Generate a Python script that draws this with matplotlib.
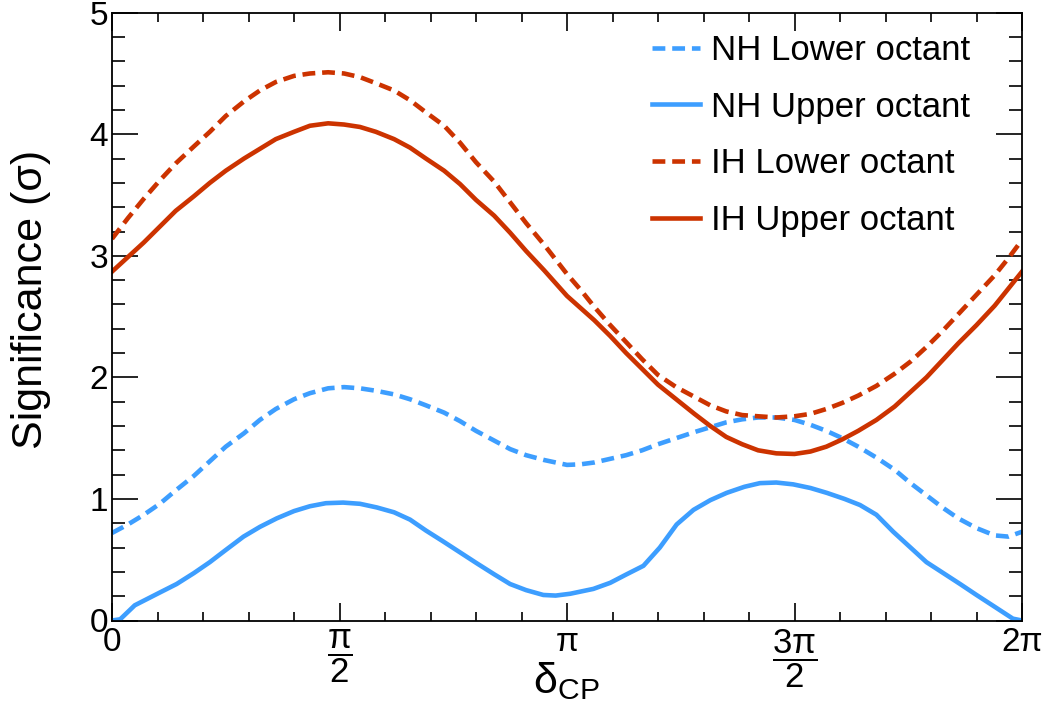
import numpy as np
import matplotlib
matplotlib.use('Agg')
import matplotlib.pyplot as plt
from matplotlib.ticker import MultipleLocator

plt.rcParams['font.family'] = ['Liberation Sans', 'DejaVu Sans']
plt.rcParams['mathtext.fontset'] = 'custom'
plt.rcParams['mathtext.rm'] = 'Liberation Sans'
plt.rcParams['mathtext.it'] = 'Liberation Sans'
plt.rcParams['mathtext.default'] = 'regular'

# delta_CP in units of pi
delta_pi = [0, 0.035, 0.07, 0.105, 0.14, 0.18, 0.215, 0.25, 0.29, 0.325,
            0.36, 0.40, 0.435, 0.475, 0.51, 0.545, 0.58, 0.62, 0.655, 0.69,
            0.73, 0.765, 0.80, 0.84, 0.875, 0.91, 0.95, 1.0, 1.03, 1.06,
            1.095, 1.13, 1.165, 1.2, 1.24, 1.28, 1.315, 1.35, 1.385, 1.42,
            1.46, 1.5, 1.535, 1.57, 1.605, 1.64, 1.68, 1.72, 1.755, 1.79,
            1.825, 1.86, 1.90, 1.94, 1.97, 2.0]
ih_upper = [2.87, 2.99, 3.11, 3.24, 3.37, 3.49, 3.60, 3.70, 3.80, 3.88,
            3.96, 4.02, 4.07, 4.09, 4.08, 4.06, 4.02, 3.96, 3.89, 3.80,
            3.70, 3.59, 3.46, 3.33, 3.19, 3.04, 2.88, 2.67, 2.57, 2.47,
            2.34, 2.20, 2.07, 1.94, 1.82, 1.70, 1.60, 1.51, 1.45, 1.40,
            1.375, 1.37, 1.39, 1.43, 1.49, 1.56, 1.65, 1.76, 1.88, 2.00,
            2.14, 2.28, 2.43, 2.59, 2.73, 2.87]
ih_lower = [3.14, 3.31, 3.47, 3.62, 3.76, 3.90, 4.02, 4.15, 4.27, 4.36,
            4.43, 4.48, 4.50, 4.51, 4.50, 4.47, 4.42, 4.36, 4.28, 4.18,
            4.07, 3.93, 3.77, 3.61, 3.44, 3.27, 3.09, 2.85, 2.72, 2.58,
            2.43, 2.29, 2.15, 2.02, 1.92, 1.84, 1.77, 1.72, 1.69, 1.68,
            1.67, 1.68, 1.70, 1.74, 1.79, 1.85, 1.93, 2.03, 2.13, 2.25,
            2.38, 2.52, 2.68, 2.84, 2.98, 3.13]
nh_lower = [0.72, 0.79, 0.87, 0.96, 1.07, 1.19, 1.31, 1.43, 1.54, 1.65,
            1.74, 1.82, 1.87, 1.91, 1.92, 1.91, 1.89, 1.86, 1.82, 1.77,
            1.71, 1.64, 1.56, 1.48, 1.41, 1.36, 1.32, 1.28, 1.285, 1.30,
            1.33, 1.36, 1.40, 1.45, 1.50, 1.55, 1.59, 1.63, 1.655, 1.67,
            1.67, 1.65, 1.61, 1.56, 1.50, 1.43, 1.34, 1.24, 1.13, 1.03,
            0.93, 0.84, 0.76, 0.70, 0.69, 0.73]

delta_pi_nhu = [0, 0.018, 0.05, 0.105, 0.142, 0.18, 0.215, 0.25, 0.289, 0.325,
                0.362, 0.40, 0.435, 0.47, 0.508, 0.545, 0.582, 0.62, 0.655, 0.69,
                0.728, 0.765, 0.802, 0.84, 0.875, 0.91, 0.948, 0.975, 1.007, 1.058,
                1.095, 1.131, 1.168, 1.204, 1.241, 1.278, 1.315, 1.351, 1.39, 1.424,
                1.46, 1.497, 1.535, 1.571, 1.61, 1.644, 1.68, 1.717, 1.755, 1.79,
                1.827, 1.864, 1.90, 1.937, 1.98, 2.0]
nh_upper = [0.0, 0.01, 0.125, 0.23, 0.30, 0.39, 0.48, 0.58, 0.69, 0.77,
            0.84, 0.90, 0.94, 0.965, 0.97, 0.96, 0.93, 0.89, 0.83, 0.74,
            0.65, 0.56, 0.47, 0.38, 0.30, 0.25, 0.21, 0.205, 0.22, 0.26,
            0.31, 0.38, 0.45, 0.60, 0.79, 0.91, 0.99, 1.05, 1.10, 1.13,
            1.135, 1.12, 1.09, 1.05, 1.00, 0.95, 0.87, 0.73, 0.60, 0.48,
            0.39, 0.30, 0.21, 0.12, 0.015, 0.0]

xtick_labels = ['0', r'$\dfrac{\pi}{2}$', 'π', r'$\dfrac{3\pi}{2}$', '2π']

blue = '#3d9eff'
red = '#cc3300'
dash = (2.8, 1.5)

x = np.array(delta_pi) * np.pi
x_nhu = np.array(delta_pi_nhu) * np.pi

fig = plt.figure(figsize=(10.46, 7.15), dpi=100)
ax = fig.add_axes([112 / 1046, 1 - 620.5 / 715, 910 / 1046, 607.8 / 715])

style = dict(lw=3.3, solid_joinstyle='round', dash_joinstyle='round')
ax.plot(x, nh_lower, color=blue, dashes=dash, label='NH Lower octant', **style)
ax.plot(x_nhu, nh_upper, color=blue, label='NH Upper octant', **style)
ax.plot(x, ih_lower, color=red, dashes=dash, label='IH Lower octant', **style)
ax.plot(x, ih_upper, color=red, label='IH Upper octant', **style)

ax.set_xlim(0, 2 * np.pi)
ax.set_ylim(0, 5)
ax.xaxis.set_minor_locator(MultipleLocator(np.pi / 10))
ax.yaxis.set_major_locator(MultipleLocator(1))
ax.yaxis.set_minor_locator(MultipleLocator(0.2))
ax.set_xticks(np.arange(5) * np.pi / 2)
ax.set_xticklabels(xtick_labels)

for s in ax.spines.values():
    s.set_linewidth(1.3)
ax.tick_params(which='both', direction='in', top=True, right=True, width=1.2,
               labelsize=24)
ax.tick_params(axis='x', which='major', length=13, pad=5)
ax.tick_params(axis='x', which='minor', length=6.5)
ax.tick_params(axis='y', which='major', length=19, pad=3)
ax.tick_params(axis='y', which='minor', length=9.5)
for lbl in ax.get_xticklabels():
    if 'frac' in lbl.get_text():
        lbl.set_fontsize(25)

fig.text(51 / 1046, 1 - 299 / 715, 'Significance (σ)', rotation=90,
         ha='right', va='center', fontsize=31)
fig.text(566 / 1046, 1 - 693 / 715, r'$\mathregular{\delta_{CP}}$',
         ha='center', va='baseline', fontsize=31)

ax.legend(loc='upper left', bbox_to_anchor=(652 / 1046, 1 - 34 / 715),
          bbox_transform=fig.transFigure, frameon=False, fontsize=25,
          handlelength=1.38, handletextpad=0.32, labelspacing=0.68,
          borderpad=0, borderaxespad=0)

fig.savefig('out.png', dpi=100)
